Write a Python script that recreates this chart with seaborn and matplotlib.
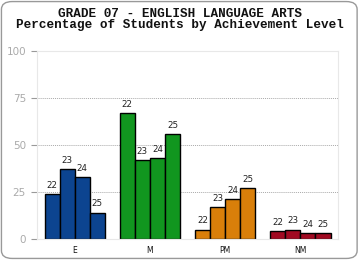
import matplotlib
matplotlib.use("Agg")
import pandas as pd
import seaborn as sns
import matplotlib.pyplot as plt
from matplotlib.patches import FancyBboxPatch

levels = ["E", "M", "PM", "NM"]
years = ["22", "23", "24", "25"]
e_vals = [24, 37, 33, 14]
m_vals = [67, 42, 43, 56]
pm_vals = [5, 17, 21, 27]
nm_vals = [4, 5, 3, 3]
level_colors = ["#0c4490", "#11961f", "#d97f0a", "#a10a22"]

value = []
level = []
year = []
for lv, vals in zip(levels, [e_vals, m_vals, pm_vals, nm_vals]):
    for y, v in zip(years, vals):
        value.append(v)
        level.append(lv)
        year.append(y)
data = pd.DataFrame({"value": value, "level": level, "year": year})

sns.set_style("white")
fig = plt.figure(figsize=(3.6, 2.6), dpi=100)
ax = fig.add_axes([0.103, 0.081, 0.836, 0.723])

bars = sns.barplot(data=data, x="level", y="value", hue="year", order=levels,
                   hue_order=years, width=0.8, edgecolor="black", linewidth=1.0,
                   legend=False, ax=ax)

# colour by level, label by year
for ci, cont in enumerate(ax.containers):
    for li, patch in enumerate(cont.patches):
        patch.set_facecolor(level_colors[li])
    ax.bar_label(cont, labels=[years[ci]] * len(cont.patches), padding=3,
                 fontsize=6.3, color="#222222")

ax.set_ylim(0, 100)
ax.set_yticks([0, 25, 50, 75, 100])
ax.set_xlabel("")
ax.set_ylabel("")
for yv in [25, 50, 75]:
    ax.axhline(yv, color="#aaaaaa", linestyle=(0, (1, 1)), linewidth=0.7, zorder=0)
for s in ax.spines.values():
    s.set_color("#e8e8e8")
    s.set_linewidth(0.8)
ax.tick_params(axis="y", length=4, width=0.8, color="#999999", labelcolor="#aaaaaa",
               labelsize=7.5, pad=4, left=True)
ax.tick_params(axis="x", length=0, labelsize=5.5, labelcolor="#111111", pad=5)

fig.text(0.5, 0.947, "GRADE 07 - ENGLISH LANGUAGE ARTS", ha="center", va="center",
         fontsize=9.1, fontweight="bold", family="Liberation Mono", color="#111111")
fig.text(0.5, 0.903, "Percentage of Students by Achievement Level", ha="center",
         va="center", fontsize=9.1, fontweight="bold", family="Liberation Mono",
         color="#111111")

frame = FancyBboxPatch((0.004, 0.006), 0.988, 0.988, boxstyle="round,pad=0,rounding_size=0.03",
                       transform=fig.transFigure, facecolor="none", edgecolor="#999999",
                       linewidth=1.0, zorder=-1)
fig.patches.append(frame)

fig.savefig("out.png", dpi=100)
